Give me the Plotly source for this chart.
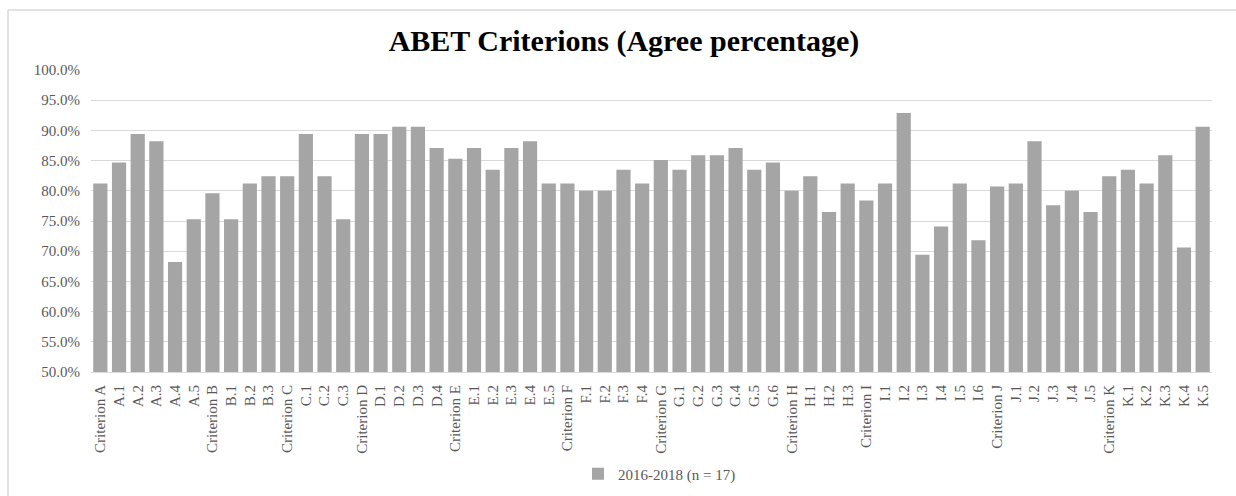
import plotly.graph_objects as go

categories = [
    "Criterion A", "A.1", "A.2", "A.3", "A.4", "A.5",
    "Criterion B", "B.1", "B.2", "B.3",
    "Criterion C", "C.1", "C.2", "C.3",
    "Criterion D", "D.1", "D.2", "D.3", "D.4",
    "Criterion E", "E.1", "E.2", "E.3", "E.4", "E.5",
    "Criterion F", "F.1", "F.2", "F.3", "F.4",
    "Criterion G", "G.1", "G.2", "G.3", "G.4", "G.5", "G.6",
    "Criterion H", "H.1", "H.2", "H.3",
    "Criterion I", "I.1", "I.2", "I.3", "I.4", "I.5", "I.6",
    "Criterion J", "J.1", "J.2", "J.3", "J.4", "J.5",
    "Criterion K", "K.1", "K.2", "K.3", "K.4", "K.5",
]

agree_pct = [
    81.2, 84.7, 89.4, 88.2, 68.2, 75.3,
    79.6, 75.3, 81.2, 82.4,
    82.4, 89.4, 82.4, 75.3,
    89.4, 89.4, 90.6, 90.6, 87.1,
    85.3, 87.1, 83.5, 87.1, 88.2, 81.2,
    81.2, 80.0, 80.0, 83.5, 81.2,
    85.1, 83.5, 85.9, 85.9, 87.1, 83.5, 84.7,
    80.0, 82.4, 76.5, 81.2,
    78.4, 81.2, 92.9, 69.4, 74.1, 81.2, 71.8,
    80.7, 81.2, 88.2, 77.6, 80.0, 76.5,
    82.4, 83.5, 81.2, 85.9, 70.6, 90.6,
]

series_name = "2016-2018 (n = 17)"
title_text = "ABET Criterions (Agree percentage)"

SERIF = "Liberation Serif, Times New Roman, serif"

fig = go.Figure()
fig.add_trace(go.Bar(
    x=categories,
    y=agree_pct,
    name=series_name,
    marker=dict(color="#a5a5a5", line=dict(width=0)),
    showlegend=True,
))

# plot area in pixels: x 91..1212, y 70..372
L, R, T, B = 91, 24, 70, 124
W, H = 1236, 496
pw = W - L - R
ph = H - T - B

def px_to_paper_x(px):
    return (px - L) / pw

def py_to_paper_y(py):
    return (H - B - py) / ph

fig.update_layout(
    width=W, height=H,
    margin=dict(l=L, r=R, t=T, b=B, autoexpand=False),
    paper_bgcolor="white",
    plot_bgcolor="white",
    font=dict(family=SERIF, color="#595959", size=15),
    title=dict(
        text="<b>" + title_text + "</b>",
        font=dict(family=SERIF, size=30, color="#000000"),
        x=624 / W, xref="container", xanchor="center",
        y=1 - 40 / H, yref="container", yanchor="middle",
    ),
    bargap=0.24,
    showlegend=True,
    legend=dict(
        orientation="h",
        xref="container", yref="container",
        x=578 / W, xanchor="left",
        y=1 - 474 / H, yanchor="middle",
        font=dict(family=SERIF, size=15, color="#595959"),
        itemwidth=30,
        bgcolor="rgba(0,0,0,0)",
    ),
    xaxis=dict(
        type="category",
        tickangle=-90,
        tickfont=dict(family=SERIF, size=15, color="#595959"),
        showgrid=False,
        showline=True, linecolor="#d9d9d9", linewidth=1,
        ticks="",
        ticklabelstandoff=6,
        automargin=False,
    ),
    yaxis=dict(
        range=[50, 100],
        dtick=5,
        tick0=50,
        tickformat=".1f",
        ticksuffix="%",
        tickfont=dict(family=SERIF, size=15, color="#595959"),
        showgrid=True, gridcolor="#d9d9d9", gridwidth=1,
        zeroline=False,
        showline=False,
        ticks="",
        ticklabelstandoff=10,
        automargin=False,
    ),
    shapes=[
        dict(type="line", xref="paper", yref="paper",
             x0=px_to_paper_x(8), x1=px_to_paper_x(1240),
             y0=py_to_paper_y(10), y1=py_to_paper_y(10),
             line=dict(color="#d9d9d9", width=1.5)),
        dict(type="line", xref="paper", yref="paper",
             x0=px_to_paper_x(8), x1=px_to_paper_x(8),
             y0=py_to_paper_y(10), y1=py_to_paper_y(500),
             line=dict(color="#d9d9d9", width=1.5)),
    ],
)

fig.write_html("out.html")
